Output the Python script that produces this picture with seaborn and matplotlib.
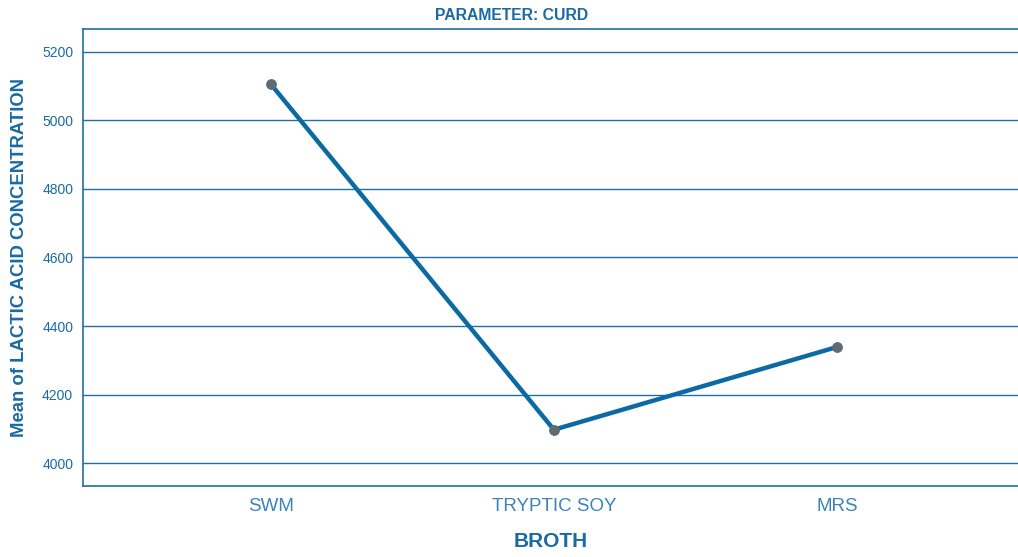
import matplotlib
matplotlib.use("Agg")
import matplotlib.pyplot as plt
import seaborn as sns
import pandas as pd

broth = ["SWM", "TRYPTIC SOY", "MRS"]
mean_lactic = [5105, 4098, 4339]
y_ticks = [4000, 4200, 4400, 4600, 4800, 5000, 5200]

sns.set_theme(style="white")
plt.rcParams['font.family'] = ['Liberation Sans', 'DejaVu Sans']

txt = "#1a6aa3"
line_c = "#0b69a3"
grid_c = "#1f6ea6"

df = pd.DataFrame({"BROTH": broth, "MEAN": mean_lactic})

fig = plt.figure(figsize=(10.18, 5.57), dpi=100)
ax = fig.add_axes([0.0815, 0.1275, 0.9185, 0.8205])

sns.lineplot(data=df, x="BROTH", y="MEAN", sort=False, ax=ax, color=line_c,
             linewidth=3.2, marker="o", markersize=7, markerfacecolor="#5f6b73",
             markeredgecolor="#5f6b73", zorder=3)

ax.set_ylim(3934, 5266)
ax.set_xlim(-0.664, 2.64)
ax.set_yticks(y_ticks)
ax.set_yticklabels([str(v) for v in y_ticks], fontsize=10, color=txt)
ax.set_xticks(range(len(broth)))
ax.set_xticklabels(broth, fontsize=13.5, color="#3a84b8")
ax.tick_params(axis="both", length=0)
ax.tick_params(axis="y", pad=7)
ax.tick_params(axis="x", pad=9)
ax.yaxis.grid(True, color=grid_c, linewidth=1.0)
ax.set_axisbelow(True)
for s in ["left", "top", "bottom"]:
    ax.spines[s].set_color(grid_c)
    ax.spines[s].set_linewidth(1.2)
ax.spines["right"].set_visible(False)

ax.set_xlabel("BROTH", fontsize=15, fontweight="bold", color=txt, labelpad=12)
ax.set_ylabel("Mean of LACTIC ACID CONCENTRATION", fontsize=13.3, fontweight="bold",
              color=txt, va="center")
ax.yaxis.set_label_coords(-0.0675, 0.5)
fig.text(0.503, 0.972, "PARAMETER: CURD", fontsize=11.3, fontweight="bold",
         color=txt, ha="center", va="center")

fig.savefig("out.png", dpi=100)
